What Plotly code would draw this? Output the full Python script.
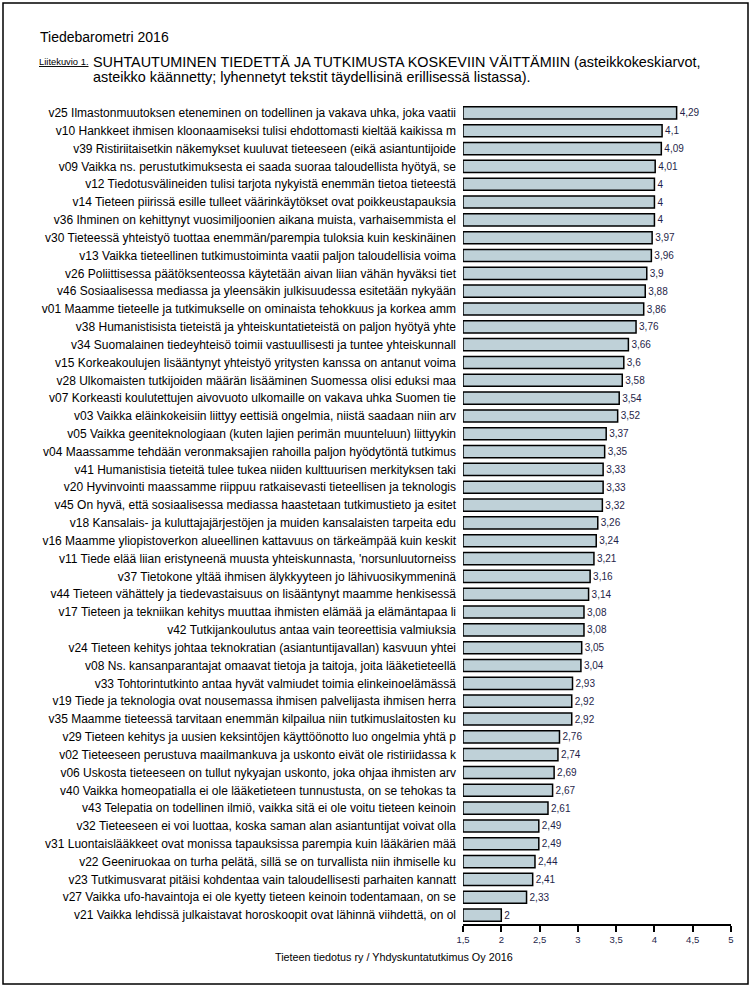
import plotly.graph_objects as go

labels = [
    "v25 Ilmastonmuutoksen eteneminen on todellinen ja vakava uhka, joka vaatii",
    "v10 Hankkeet ihmisen kloonaamiseksi tulisi ehdottomasti kieltää kaikissa m",
    "v39 Ristiriitaisetkin näkemykset kuuluvat tieteeseen (eikä asiantuntijoide",
    "v09 Vaikka ns. perustutkimuksesta ei saada suoraa taloudellista hyötyä, se",
    "v12 Tiedotusvälineiden tulisi tarjota nykyistä enemmän tietoa tieteestä",
    "v14 Tieteen piirissä esille tulleet väärinkäytökset ovat poikkeustapauksia",
    "v36 Ihminen on kehittynyt vuosimiljoonien aikana muista, varhaisemmista el",
    "v30 Tieteessä yhteistyö tuottaa enemmän/parempia tuloksia kuin keskinäinen",
    "v13 Vaikka tieteellinen tutkimustoiminta vaatii paljon taloudellisia voima",
    "v26 Poliittisessa päätöksenteossa käytetään aivan liian vähän hyväksi tiet",
    "v46 Sosiaalisessa mediassa ja yleensäkin julkisuudessa esitetään nykyään",
    "v01 Maamme tieteelle ja tutkimukselle on ominaista tehokkuus ja korkea amm",
    "v38 Humanistisista tieteistä ja yhteiskuntatieteistä on paljon hyötyä yhte",
    "v34 Suomalainen tiedeyhteisö toimii vastuullisesti ja tuntee yhteiskunnall",
    "v15 Korkeakoulujen lisääntynyt yhteistyö yritysten kanssa on antanut voima",
    "v28 Ulkomaisten tutkijoiden määrän lisääminen Suomessa olisi eduksi maa",
    "v07 Korkeasti koulutettujen aivovuoto ulkomaille on vakava uhka Suomen tie",
    "v03 Vaikka eläinkokeisiin liittyy eettisiä ongelmia, niistä saadaan niin arv",
    "v05 Vaikka geeniteknologiaan (kuten lajien perimän muunteluun) liittyykin",
    "v04 Maassamme tehdään veronmaksajien rahoilla paljon hyödytöntä tutkimus",
    "v41 Humanistisia tieteitä tulee tukea niiden kulttuurisen merkityksen taki",
    "v20 Hyvinvointi maassamme riippuu ratkaisevasti tieteellisen ja teknologis",
    "v45 On hyvä, että sosiaalisessa mediassa haastetaan tutkimustieto ja esitet",
    "v18 Kansalais- ja kuluttajajärjestöjen ja muiden kansalaisten tarpeita edu",
    "v16 Maamme yliopistoverkon alueellinen kattavuus on tärkeämpää kuin keskit",
    "v11 Tiede elää liian eristyneenä muusta yhteiskunnasta, 'norsunluutorneiss",
    "v37 Tietokone yltää ihmisen älykkyyteen jo lähivuosikymmeninä",
    "v44 Tieteen vähättely ja tiedevastaisuus on lisääntynyt maamme henkisessä",
    "v17 Tieteen ja tekniikan kehitys muuttaa ihmisten elämää ja elämäntapaa li",
    "v42 Tutkijankoulutus antaa vain teoreettisia valmiuksia",
    "v24 Tieteen kehitys johtaa teknokratian (asiantuntijavallan) kasvuun yhtei",
    "v08 Ns. kansanparantajat omaavat tietoja ja taitoja, joita lääketieteellä",
    "v33 Tohtorintutkinto antaa hyvät valmiudet toimia elinkeinoelämässä",
    "v19 Tiede ja teknologia ovat nousemassa ihmisen palvelijasta ihmisen herra",
    "v35 Maamme tieteessä tarvitaan enemmän kilpailua niin tutkimuslaitosten ku",
    "v29 Tieteen kehitys ja uusien keksintöjen käyttöönotto luo ongelmia yhtä p",
    "v02 Tieteeseen perustuva maailmankuva ja uskonto eivät ole ristiriidassa k",
    "v06 Uskosta tieteeseen on tullut nykyajan uskonto, joka ohjaa ihmisten arv",
    "v40 Vaikka homeopatialla ei ole lääketieteen tunnustusta, on se tehokas ta",
    "v43 Telepatia on todellinen ilmiö, vaikka sitä ei ole voitu tieteen keinoin",
    "v32 Tieteeseen ei voi luottaa, koska saman alan asiantuntijat voivat olla",
    "v31 Luontaislääkkeet ovat monissa tapauksissa parempia kuin lääkärien mää",
    "v22 Geeniruokaa on turha pelätä, sillä se on turvallista niin ihmiselle ku",
    "v23 Tutkimusvarat pitäisi kohdentaa vain taloudellisesti parhaiten kannatt",
    "v27 Vaikka ufo-havaintoja ei ole kyetty tieteen keinoin todentamaan, on se",
    "v21 Vaikka lehdissä julkaistavat horoskoopit ovat lähinnä viihdettä, on ol",
]
values = [4.29, 4.1, 4.09, 4.01, 4, 4, 4, 3.97, 3.96, 3.9, 3.88, 3.86, 3.76, 3.66,
          3.6, 3.58, 3.54, 3.52, 3.37, 3.35, 3.33, 3.33, 3.32, 3.26, 3.24, 3.21,
          3.16, 3.14, 3.08, 3.08, 3.05, 3.04, 2.93, 2.92, 2.92, 2.76, 2.74, 2.69,
          2.67, 2.61, 2.49, 2.49, 2.44, 2.41, 2.33, 2]
tick_vals = [1.5, 2, 2.5, 3, 3.5, 4, 4.5, 5]
tick_text = ["1,5", "2", "2,5", "3", "3,5", "4", "4,5", "5"]
value_text = [("%g" % v).replace(".", ",") for v in values]

base = 1.5
W, H = 752, 988
L, R, T, B = 463, 21, 104, 64
pw, ph = W - L - R, H - T - B

def px(x):
    return (x - L) / pw

def py(y):
    return 1 - (y - T) / ph

fig = go.Figure()
fig.add_trace(go.Bar(
    y=labels,
    x=[v - base for v in values],
    base=base,
    orientation="h",
    marker=dict(color="#bfd1d8", line=dict(color="#000000", width=1.5)),
    text=value_text,
    textposition="outside",
    textfont=dict(size=10, color="#1f1f4a", family="Liberation Sans, Arial"),
    cliponaxis=False,
    hoverinfo="skip",
))

fig.update_layout(
    width=W, height=H,
    margin=dict(l=L, r=R, t=T, b=B),
    paper_bgcolor="white", plot_bgcolor="white",
    font=dict(family="Liberation Sans, Arial", size=12, color="#000000"),
    showlegend=False,
    bargap=0.32,
    xaxis=dict(
        range=[1.5, 5], tickvals=tick_vals, ticktext=tick_text,
        showgrid=False, zeroline=False,
        showline=True, linecolor="#000000", linewidth=1.5,
        ticks="outside", ticklen=6, tickwidth=1.5, tickcolor="#000000",
        tickfont=dict(size=9.5, color="#1f1f4a"),
        fixedrange=True,
    ),
    yaxis=dict(
        autorange="reversed", showgrid=False, zeroline=False,
        showline=False, ticks="", ticklabelstandoff=6,
        tickfont=dict(size=12, color="#000000"),
        fixedrange=True,
    ),
    shapes=[dict(
        type="rect", xref="paper", yref="paper",
        x0=px(3), x1=px(748), y0=py(3), y1=py(984),
        line=dict(color="#000000", width=1.5), fillcolor="rgba(0,0,0,0)",
        layer="above",
    )],
    annotations=[
        dict(text="Tiedebarometri 2016", xref="paper", yref="paper",
             x=px(38), y=py(37), xanchor="left", yanchor="middle",
             showarrow=False, font=dict(size=14)),
        dict(text="<u>Liitekuvio 1.</u>", xref="paper", yref="paper",
             x=px(37), y=py(62), xanchor="left", yanchor="middle",
             showarrow=False, font=dict(size=9.4)),
        dict(text="SUHTAUTUMINEN TIEDETTÄ JA TUTKIMUSTA KOSKEVIIN VÄITTÄMIIN (asteikkokeskiarvot,",
             xref="paper", yref="paper",
             x=px(91), y=py(62), xanchor="left", yanchor="middle",
             showarrow=False, font=dict(size=14.4)),
        dict(text="asteikko käännetty; lyhennetyt tekstit täydellisinä erillisessä listassa).",
             xref="paper", yref="paper",
             x=px(91), y=py(77), xanchor="left", yanchor="middle",
             showarrow=False, font=dict(size=14.4)),
        dict(text="Tieteen tiedotus ry / Yhdyskuntatutkimus Oy 2016", xref="paper", yref="paper",
             x=px(394), y=py(957), xanchor="center", yanchor="middle",
             showarrow=False, font=dict(size=10.8)),
    ],
)

fig.write_html("out.html", config={"displayModeBar": False},
               post_script="document.body.style.margin='0';")
